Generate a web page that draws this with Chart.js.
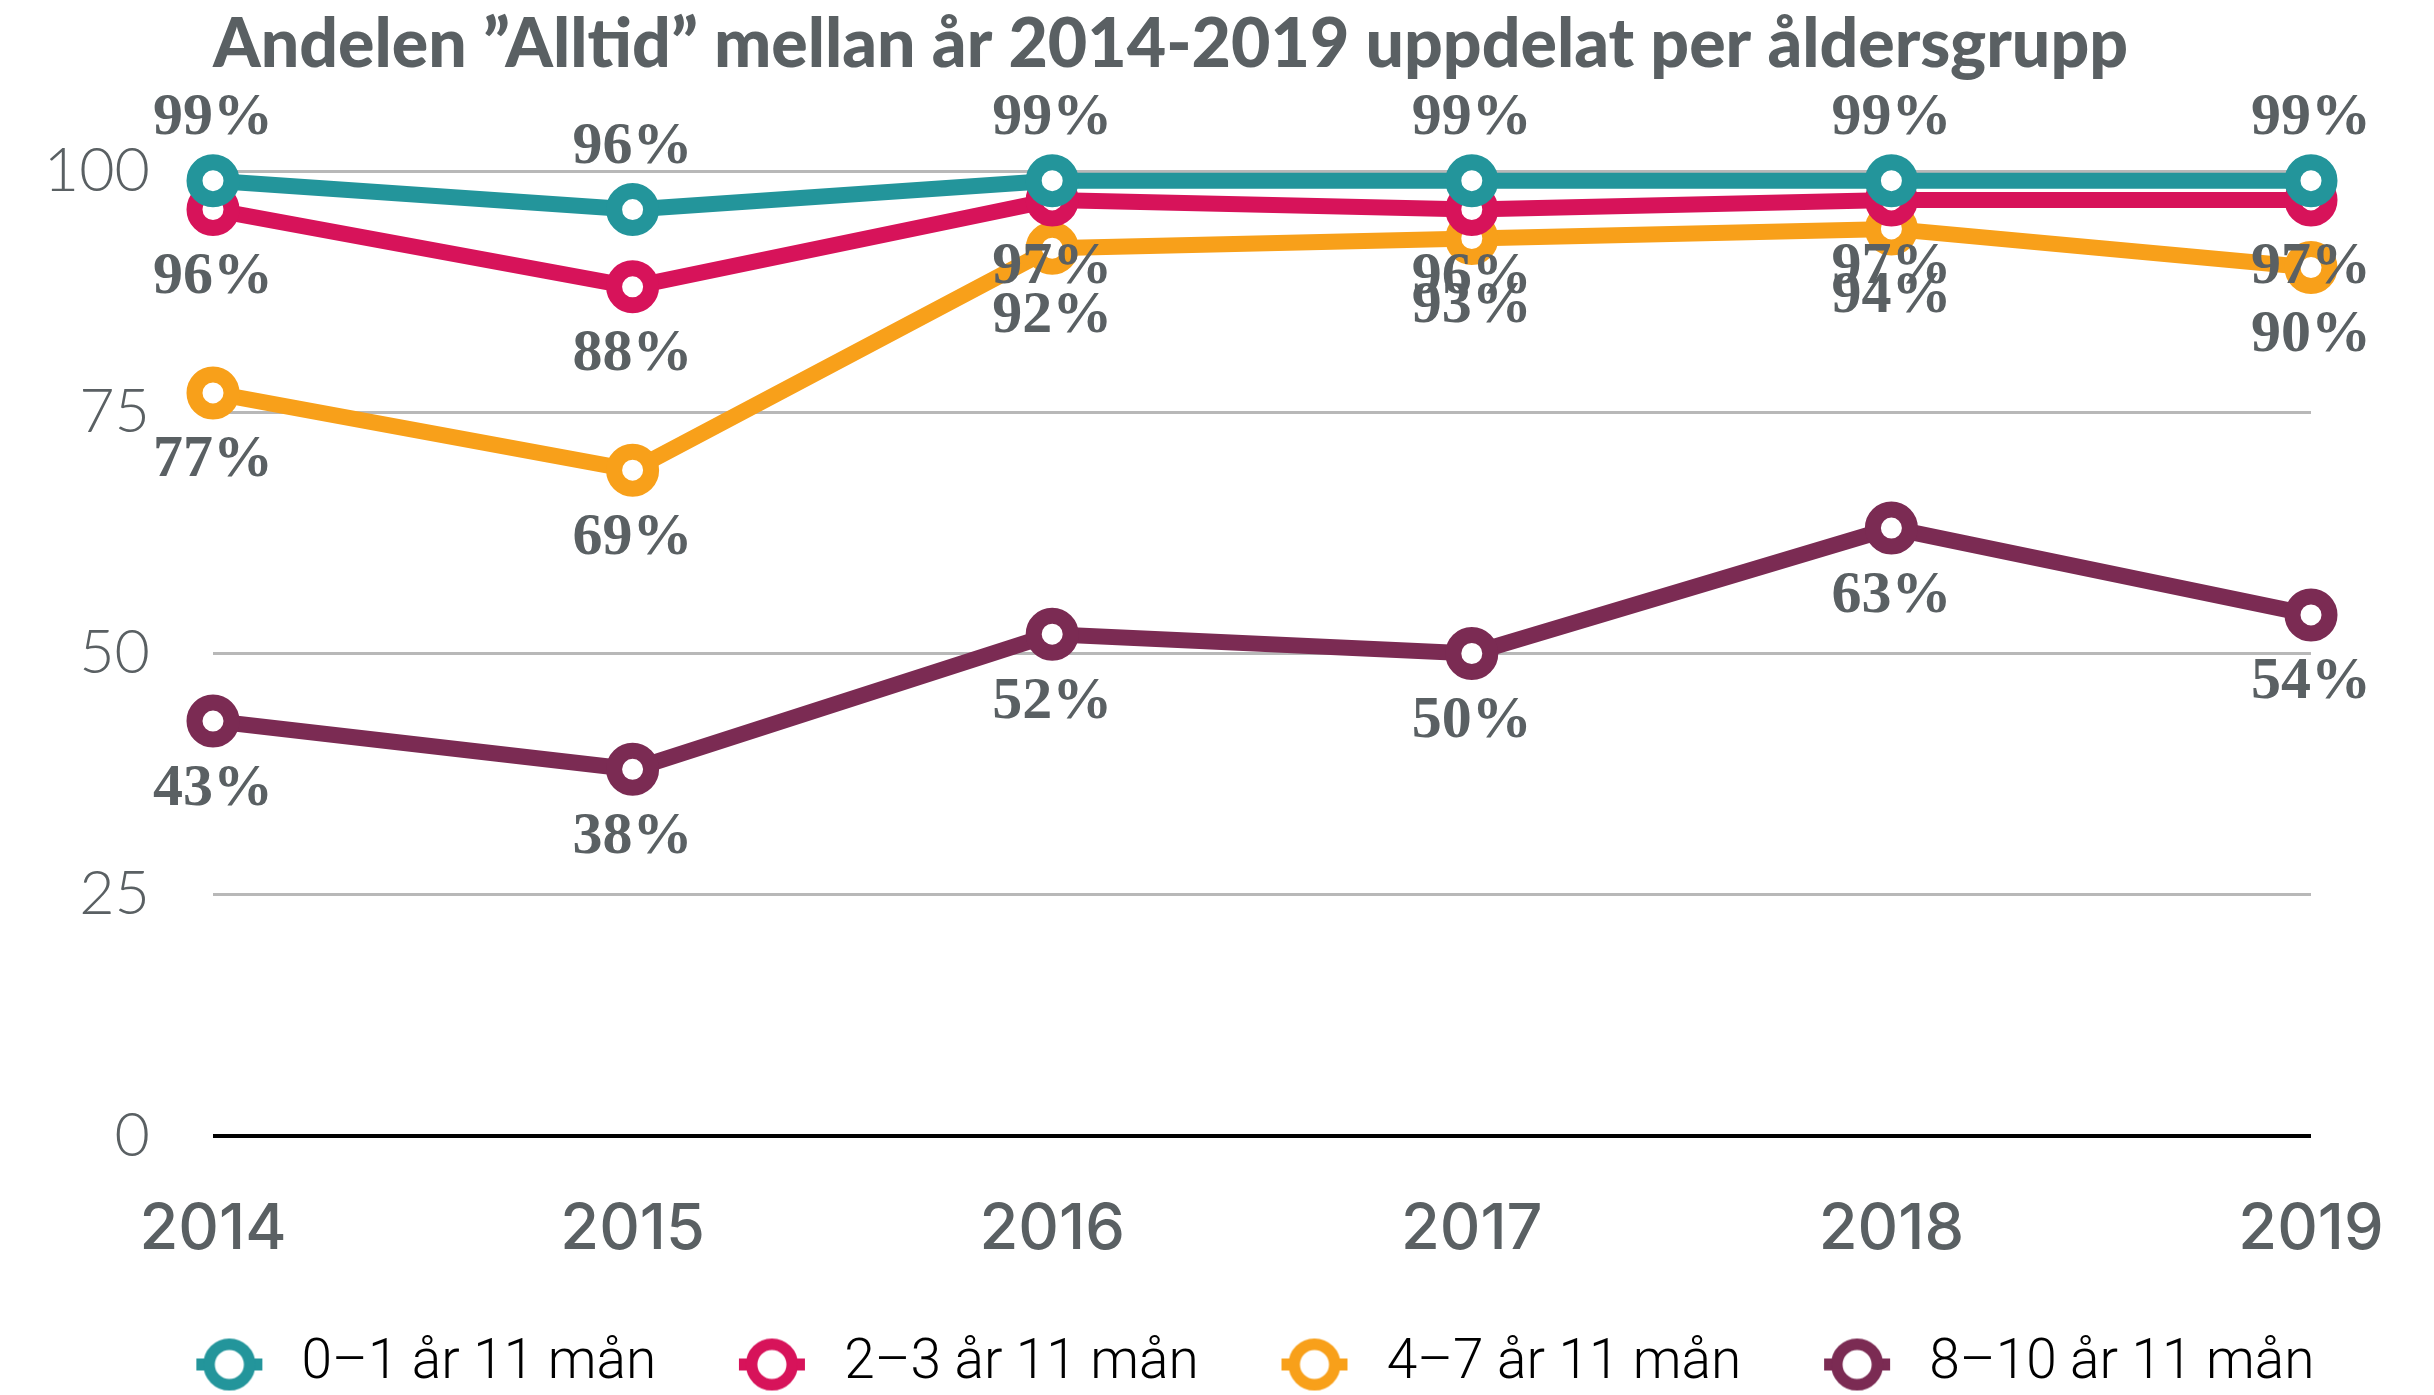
<!DOCTYPE html>
<html><head><meta charset="utf-8">
<script src="https://cdn.jsdelivr.net/npm/chart.js@4/dist/chart.umd.min.js"></script>
<style>html,body{margin:0;padding:0;background:#fff;overflow:hidden}</style>
</head><body>
<canvas id="c" width="2434" height="1395"></canvas>
<script>
const titleText = 'Andelen ”Alltid” mellan år 2014-2019 uppdelat per åldersgrupp';
const years = ['2014', '2015', '2016', '2017', '2018', '2019'];
const seriesNames = ['0–1 år 11 mån', '2–3 år 11 mån', '4–7 år 11 mån', '8–10 år 11 mån'];
const age0_1 = [99, 96, 99, 99, 99, 99];
const age2_3 = [96, 88, 97, 96, 97, 97];
const age4_7 = [77, 69, 92, 93, 94, 90];
const age8_10 = [43, 38, 52, 50, 63, 54];
const yTicks = [0, 25, 50, 75, 100];
const seriesColors = ['#23959b', '#d7135a', '#f8a01a', '#7b2b53'];
const labelSide = ['above', 'below', 'below', 'below'];

const GRAY = '#5a6063';
const LEG_FONT = 55;
const LEG_M = 110;
const LEG_B = 72 + LEG_M - LEG_FONT / 2;

function legendMarker(color) {
  const w = Math.round(LEG_B), h = 58, m = LEG_M, cy = h / 2;
  const cv = document.createElement('canvas');
  cv.width = w; cv.height = h;
  const c = cv.getContext('2d');
  c.fillStyle = color;
  c.fillRect(m - 33, cy - 6, 66, 12);
  c.beginPath(); c.arc(m, cy, 20.3, 0, Math.PI * 2);
  c.fillStyle = '#fff'; c.fill();
  c.lineWidth = 11.5; c.strokeStyle = color; c.stroke();
  return cv;
}
const markers = seriesColors.map(legendMarker);

const pctLabels = {
  id: 'pctLabels',
  afterDatasetsDraw(chart) {
    const ctx = chart.ctx;
    ctx.save();
    ctx.font = 'bold 60px "Liberation Serif"';
    ctx.fillStyle = GRAY;
    ctx.textAlign = 'center';
    ctx.textBaseline = 'middle';
    chart.data.datasets.forEach((ds, i) => {
      const meta = chart.getDatasetMeta(i);
      meta.data.forEach((pt, j) => {
        const dy = labelSide[i] === 'above' ? -62 : 68;
        ctx.fillText(ds.data[j] + '%', pt.x, pt.y + dy);
      });
    });
    ctx.restore();
  }
};

const seriesData = [age0_1, age2_3, age4_7, age8_10];
const datasets = seriesData.map((d, i) => ({
  label: seriesNames[i],
  data: d,
  borderColor: seriesColors[i],
  backgroundColor: seriesColors[i],
  borderWidth: 16,
  pointRadius: 18.5,
  pointBorderWidth: 16,
  pointBackgroundColor: '#fff',
  pointBorderColor: seriesColors[i],
  tension: 0,
  clip: false
}));

new Chart(document.getElementById('c'), {
  type: 'line',
  data: { labels: years, datasets },
  plugins: [pctLabels],
  options: {
    responsive: false,
    animation: false,
    devicePixelRatio: 1,
    layout: { padding: { left: 0, right: 0, top: 0, bottom: -7 } },
    plugins: {
      tooltip: { enabled: false },
      title: {
        display: true,
        text: titleText,
        align: 'start',
        fullSize: false,
        color: GRAY,
        font: { family: 'Lato', size: 68, weight: '900', lineHeight: 1.2 },
        padding: { top: 4, bottom: 85.4 }
      },
      legend: {
        display: true,
        position: 'bottom',
        fullSize: true,
        align: 'center',
        labels: {
          color: '#000',
          font: { family: 'Roboto', size: LEG_FONT, weight: '300' },
          padding: 6,
          usePointStyle: true,
          pointStyleWidth: LEG_B,
          generateLabels(chart) {
            const items = Chart.defaults.plugins.legend.labels.generateLabels(chart);
            items.forEach(it => { it.pointStyle = markers[it.datasetIndex]; });
            return items;
          }
        }
      }
    },
    scales: {
      x: {
        offset: false,
        grid: { display: false },
        border: { display: false },
        ticks: { color: GRAY, font: { family: 'Inter', size: 63, weight: '500' }, padding: 48, maxRotation: 0 },
        afterFit(s) { s.height = 195; s.paddingRight = 123; }
      },
      y: {
        min: 0, max: 100,
        afterBuildTicks(s) { s.ticks = yTicks.map(v => ({ value: v })); },
        grid: {
          drawTicks: false,
          color: c => c.tick && c.tick.value === 0 ? '#000' : '#b8b8b8',
          lineWidth: c => c.tick && c.tick.value === 0 ? 4 : 3
        },
        border: { display: false },
        ticks: { color: GRAY, font: { family: 'Lato', size: 61, weight: '300' }, padding: 63 },
        afterFit(s) { s.width = 213; }
      }
    }
  }
});
</script>
</body></html>
